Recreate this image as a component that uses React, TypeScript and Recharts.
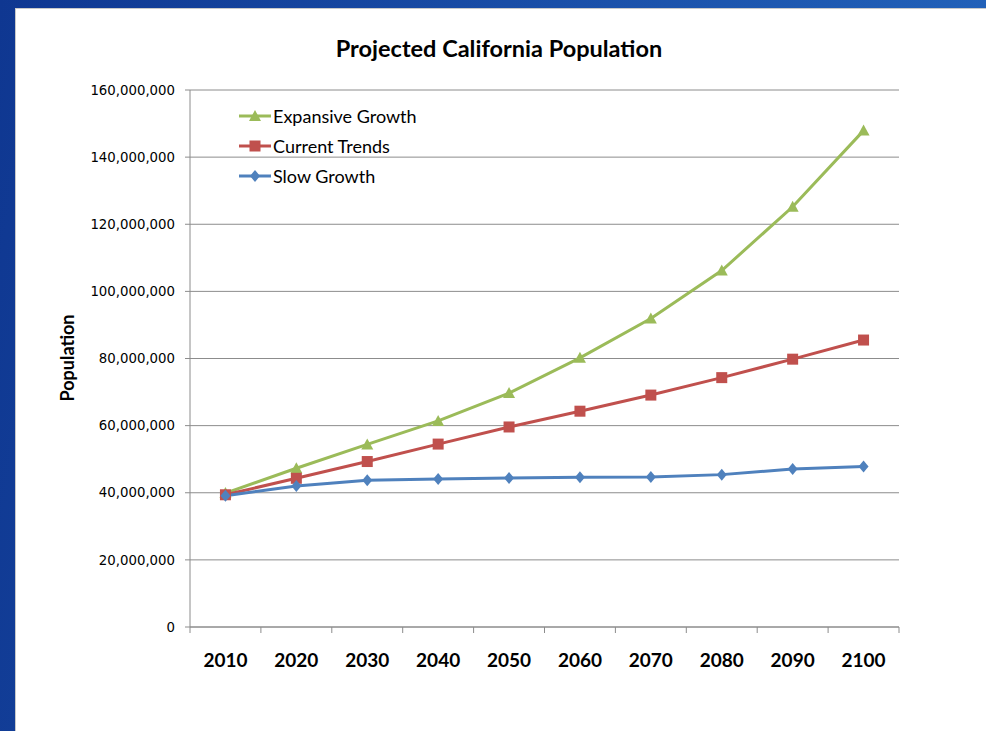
import React from "react"
import { CartesianGrid, Legend, Line, LineChart, XAxis, YAxis } from "recharts"

const years = ["2010", "2020", "2030", "2040", "2050", "2060", "2070", "2080", "2090", "2100"]
const expansiveGrowth = [39.9, 47.3, 54.4, 61.4, 69.7, 80.2, 91.9, 106.2, 125.2, 147.9]
const currentTrends = [39.4, 44.3, 49.3, 54.5, 59.6, 64.3, 69.1, 74.3, 79.8, 85.5]
const slowGrowth = [39.1, 42.0, 43.7, 44.1, 44.4, 44.6, 44.7, 45.4, 47.1, 47.8]
const yTicks = [0, 20, 40, 60, 80, 100, 120, 140, 160].map((v) => v * 1000000)
const legendOrder = ["expansive", "current", "slow"]

const data = years.map((year, i) => ({
  year,
  expansive: expansiveGrowth[i] * 1000000,
  current: currentTrends[i] * 1000000,
  slow: slowGrowth[i] * 1000000,
}))

const W = 986
const H = 731
const PLOT_LEFT = 190
const PLOT_RIGHT = 899
const PLOT_TOP = 90
const PLOT_BOTTOM = 627
const HALF_BAND = (PLOT_RIGHT - PLOT_LEFT) / years.length / 2

const GREEN = "#9bbb59"
const RED = "#c0504d"
const BLUE = "#4f81bd"
const AXIS = "#8c8c8c"
const LABEL_FONT = "'Lato', sans-serif"

function Marker({ cx, cy, shape, color }: { cx: number; cy: number; shape: string; color: string }) {
  if (cx == null || cy == null) return null
  if (shape === "triangle") {
    return <polygon points={`${cx},${cy - 6} ${cx + 6},${cy + 5} ${cx - 6},${cy + 5}`} fill={color} />
  }
  if (shape === "square") {
    return <rect x={cx - 5.5} y={cy - 5.5} width={11} height={11} fill={color} />
  }
  return <polygon points={`${cx},${cy - 6} ${cx + 5},${cy} ${cx},${cy + 6} ${cx - 5},${cy}`} fill={color} />
}

const dotFor = (shape: string, color: string) => (props: any) =>
  <Marker key={`${shape}-${props.index}`} cx={props.cx} cy={props.cy} shape={shape} color={color} />

const shapes: Record<string, string> = { expansive: "triangle", current: "square", slow: "diamond" }

// category labels sit mid-band, tick marks go on the band edges (Excel style)
function XTick(props: any) {
  const { x, payload, index } = props
  return (
    <g>
      <line x1={x - HALF_BAND} x2={x - HALF_BAND} y1={PLOT_BOTTOM} y2={PLOT_BOTTOM + 6} stroke={AXIS} />
      {index === years.length - 1 && (
        <line x1={x + HALF_BAND} x2={x + HALF_BAND} y1={PLOT_BOTTOM} y2={PLOT_BOTTOM + 6} stroke={AXIS} />
      )}
      <text x={x} y={PLOT_BOTTOM + 40} textAnchor="middle" fontFamily={LABEL_FONT} fontWeight="bold" fontSize={19} fill="#000">
        {payload.value}
      </text>
    </g>
  )
}

function renderLegend(props: any) {
  const items = [...(props.payload || [])].sort(
    (a: any, b: any) => legendOrder.indexOf(a.dataKey) - legendOrder.indexOf(b.dataKey)
  )
  return (
    <div>
      {items.map((entry: any) => (
        <div key={entry.value} style={{ display: "flex", alignItems: "center", height: 30 }}>
          <svg width={32} height={14}>
            <line x1={0} x2={32} y1={7} y2={7} stroke={entry.color} strokeWidth={3} />
            <Marker cx={16} cy={7} shape={shapes[entry.dataKey]} color={entry.color} />
          </svg>
          <span style={{ fontFamily: LABEL_FONT, fontSize: 18, color: "#000", marginLeft: 2 }}>{entry.value}</span>
        </div>
      ))}
    </div>
  )
}

export default function App() {
  return (
    <div
      style={{
        position: "fixed",
        left: 0,
        top: 0,
        width: W,
        height: H,
        background: "linear-gradient(100deg, #0f3791 0%, #1a4fa8 50%, #2466bd 100%)",
      }}
    >
      <div style={{ position: "absolute", left: 15, top: 8, right: 0, bottom: 0, background: "#fff", borderLeft: "1px solid #c9c9c9", borderTop: "1px solid #c9c9c9" }} />
      <div
        style={{
          position: "absolute",
          left: 0,
          top: 34,
          width: 998,
          textAlign: "center",
          fontFamily: LABEL_FONT,
          fontWeight: "bold",
          fontSize: 23.5,
          color: "#000",
        }}
      >
        Projected California Population
      </div>
      <div
        style={{
          position: "absolute",
          left: 67,
          top: 358,
          transform: "translate(-50%, -50%) rotate(-90deg)",
          fontFamily: LABEL_FONT,
          fontWeight: "bold",
          fontSize: 18,
          color: "#000",
          whiteSpace: "nowrap",
        }}
      >
        Population
      </div>
      <div style={{ position: "absolute", left: 0, top: 0 }}>
        <LineChart width={W} height={H} data={data} margin={{ top: PLOT_TOP, right: W - PLOT_RIGHT, bottom: 0, left: 80 }}>
          <CartesianGrid vertical={false} stroke={AXIS} strokeWidth={1} />
          <XAxis
            dataKey="year"
            height={H - PLOT_BOTTOM}
            padding={{ left: HALF_BAND, right: HALF_BAND }}
            axisLine={{ stroke: AXIS }}
            tickLine={false}
            tick={<XTick />}
            interval={0}
          />
          <YAxis
            width={PLOT_LEFT - 80}
            domain={[0, 160000000]}
            ticks={yTicks}
            tickFormatter={(v: number) => v.toLocaleString("en-US")}
            axisLine={{ stroke: AXIS }}
            tickLine={{ stroke: AXIS }}
            tickSize={5}
            tickMargin={10}
            tick={{ fontFamily: "DejaVu Sans", fontSize: 13.3, fill: "#000" }}
          />
          <Legend
            layout="vertical"
            verticalAlign="middle"
            align="center"
            itemSorter={null}
            content={renderLegend}
            wrapperStyle={{ position: "absolute", left: 239, top: 101, width: 220 }}
          />
          <Line
            dataKey="expansive"
            name="Expansive Growth"
            stroke={GREEN}
            strokeWidth={3}
            dot={dotFor("triangle", GREEN)}
            activeDot={false}
            isAnimationActive={false}
          />
          <Line
            dataKey="current"
            name="Current Trends"
            stroke={RED}
            strokeWidth={3}
            dot={dotFor("square", RED)}
            activeDot={false}
            isAnimationActive={false}
          />
          <Line
            dataKey="slow"
            name="Slow Growth"
            stroke={BLUE}
            strokeWidth={3}
            dot={dotFor("diamond", BLUE)}
            activeDot={false}
            isAnimationActive={false}
          />
        </LineChart>
      </div>
    </div>
  )
}
